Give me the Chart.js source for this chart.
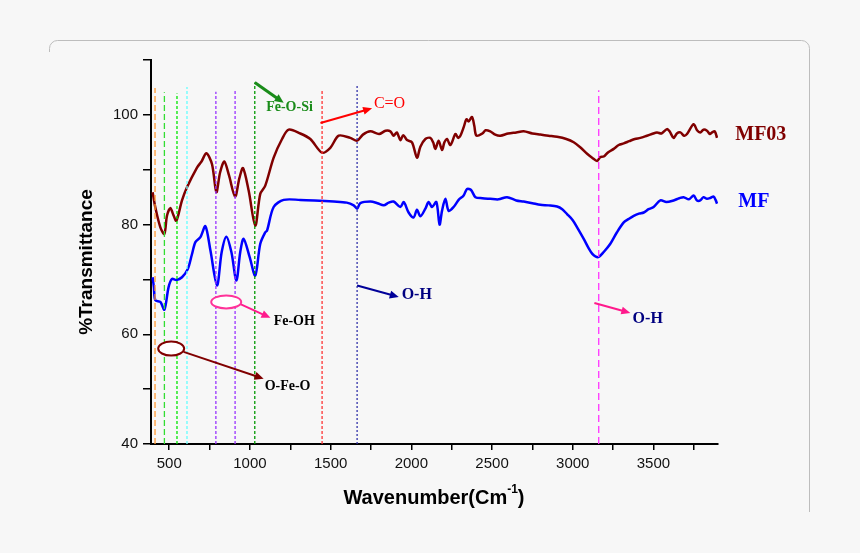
<!DOCTYPE html>
<html>
<head>
<meta charset="utf-8">
<script src="https://cdn.jsdelivr.net/npm/chart.js@4/dist/chart.umd.min.js"></script>
<style>
  html, body { margin: 0; padding: 0; background: #f7f7f7; }
  #wrap { width: 860px; height: 553px; position: relative; }
</style>
</head>
<body>
<div id="wrap"><canvas id="ftir"></canvas></div>
<script>
// wavenumber (cm-1) and %T
const wnMF03 = [397,414,445,470,486,507,525,544,579,610,672,700,730,765,792,815,841,870,908,935,957,992,1033,1064,1095,1147,1199,1240,1312,1374,1447,1498,1550,1622,1664,1700,1746,1800,1840,1870,1890,1910,1932,1950,1973,2004,2035,2056,2087,2118,2135,2149,2169,2190,2205,2221,2240,2252,2273,2290,2304,2325,2341,2355,2376,2390,2403,2440,2460,2489,2520,2551,2600,2650,2696,2750,2799,2850,2903,2960,3006,3050,3089,3120,3151,3170,3192,3220,3254,3285,3316,3350,3385,3419,3460,3490,3522,3550,3584,3600,3625,3645,3667,3690,3708,3749,3770,3790,3810,3832,3850,3863,3880,3894];
const tMF03 = [85.9,83.1,79.5,78.3,81.6,83.0,81.8,80.7,84.4,86.8,90.4,91.5,93.0,91.0,85.9,89.5,91.5,89.0,85.1,88.5,90.3,86.2,79.8,85.6,87.1,92.2,95.6,97.3,96.6,95.6,93.1,94.0,96.2,95.8,95.3,96.4,97.0,96.5,97.1,97.0,96.2,96.8,95.4,96.3,95.4,95.0,92.2,94.2,95.6,95.8,95.0,93.8,95.3,93.6,95.0,95.6,94.5,95.0,96.5,95.8,96.2,97.8,99.2,98.8,99.6,98.0,96.2,96.6,97.2,97.0,96.4,96.2,96.6,96.8,97.0,96.6,96.4,96.2,96.0,95.6,95.0,94.0,92.9,92.2,91.6,92.3,92.4,93.2,93.8,94.5,94.8,95.2,95.6,95.8,96.2,96.5,96.8,96.6,97.4,97.0,95.8,96.6,96.8,96.2,96.5,98.3,97.2,96.8,97.3,97.1,96.5,96.8,97.0,95.8];

const wnMF = [397,405,414,445,470,496,517,544,579,615,640,662,693,724,755,796,825,854,885,916,940,961,998,1033,1064,1095,1106,1147,1209,1312,1400,1519,1600,1643,1664,1684,1746,1790,1829,1860,1890,1932,1953,1983,2014,2035,2056,2087,2107,2128,2155,2175,2190,2211,2231,2262,2293,2324,2345,2370,2397,2440,2489,2540,2593,2650,2696,2750,2799,2850,2903,2935,2965,3000,3027,3068,3100,3120,3140,3161,3192,3233,3274,3316,3345,3378,3410,3440,3470,3501,3543,3580,3625,3660,3687,3720,3749,3770,3790,3810,3832,3855,3873,3885,3894];
const tMF = [70.4,68.5,66.2,65.9,64.5,68.6,70.1,69.9,70.4,71.9,74.5,76.8,77.7,79.7,75.3,68.9,75.0,77.8,75.0,69.8,75.0,77.4,74.1,70.7,76.5,78.6,78.9,83.2,84.5,84.5,84.4,84.2,84.0,83.5,82.9,83.9,84.2,83.9,83.5,84.0,84.2,83.2,84.1,82.2,81.3,82.7,81.5,82.9,84.1,83.2,84.1,80.0,82.5,84.7,82.5,83.2,84.5,85.3,86.5,86.3,85.0,84.8,84.7,84.6,85.0,84.4,84.2,83.9,83.6,83.5,83.3,82.8,81.9,80.8,79.5,77.4,75.6,74.7,74.2,74.1,75.0,76.5,78.6,80.4,81.0,81.6,82.0,82.2,82.8,83.2,84.4,84.1,84.4,84.8,85.0,84.6,85.3,84.4,84.4,85.0,84.7,84.9,85.1,84.5,83.8];

// dashed marker lines: wavenumber, top of line (%T), colour
const markWn = [412,470,548,610,789,908,1030,1447,1664,3161];
const markTop = [104.9,104.1,103.9,105.1,104.2,104.5,105.9,104.4,105.4,104.5];
const markColor = ['#ff9933','#33dd33','#00e600','#66ffff','#9933ff','#9933ff','#009900','#ff3333','#3333aa','#ff33ff'];
const markDash = [[6,3],[6,3],[3,2],[3,2],[3,2],[3,2],[3,2],[3,2],[2,2],[7,4]];

const xTicks = [500,750,1000,1250,1500,1750,2000,2250,2500,2750,3000,3250,3500,3750];
const yTicks = [40,50,60,70,80,90,100,110];

// annotations in data units
const arrows = [
  { from: [1030,105.9], to: [1209,102.2], color: '#1a8c1a', w: 3 },
  { from: [1437,98.5], to: [1757,101.2], color: '#ff0000', w: 2 },
  { from: [1664,68.9], to: [1922,66.8], color: '#000099', w: 2 },
  { from: [3134,65.7], to: [3357,63.9], color: '#ff1a8c', w: 2 },
  { from: [941,65.5], to: [1127,63.0], color: '#ff1a8c', w: 2 },
  { from: [589,56.8], to: [1085,51.9], color: '#800000', w: 2 }
];
const ellipses = [
  { c: [853,65.9], rx: 15, ry: 6.5, color: '#ff3399' },
  { c: [512,57.4], rx: 13, ry: 7, color: '#800000' }
];
const notes = [
  { text: 'Fe-O-Si', at: [1245,101.3], color: '#1a8c1a', font: 'bold 14px "Liberation Serif"', align: 'center' },
  { text: 'C=O', at: [1768,102.1], color: '#ff0000', font: '16px "Liberation Serif"', align: 'left' },
  { text: 'O-H', at: [1940,67.1], color: '#000080', font: 'bold 16px "Liberation Serif"', align: 'left' },
  { text: 'O-H', at: [3371,62.9], color: '#000080', font: 'bold 16px "Liberation Serif"', align: 'left' },
  { text: 'Fe-OH', at: [1147,62.4], color: '#000000', font: 'bold 14px "Liberation Serif"', align: 'left' },
  { text: 'O-Fe-O', at: [1091,50.5], color: '#000000', font: 'bold 14px "Liberation Serif"', align: 'left' },
  { text: 'MF03', at: [4007,96.4], color: '#800000', font: 'bold 20px "Liberation Serif"', align: 'left' },
  { text: 'MF', at: [4026,84.2], color: '#0000ff', font: 'bold 20px "Liberation Serif"', align: 'left' }
];

function pts(xs, ys) {
  return xs.map((x, i) => ({ x: x, y: ys[i] }));
}

var datasets = [];
for (var i = 0; i < markWn.length; i++) {
  datasets.push({
    data: [{ x: markWn[i], y: 40 }, { x: markWn[i], y: markTop[i] }],
    borderColor: markColor[i],
    borderWidth: 1.3,
    borderDash: markDash[i],
    pointRadius: 0,
    tension: 0
  });
}
datasets.push({ label: 'MF03', data: pts(wnMF03, tMF03), borderColor: '#800000', borderWidth: 2.5, pointRadius: 0, tension: 0.3 });
datasets.push({ label: 'MF', data: pts(wnMF, tMF), borderColor: '#0000ff', borderWidth: 2.5, pointRadius: 0, tension: 0.3 });

function arrow(ctx, x1, y1, x2, y2, color, w) {
  var a = Math.atan2(y2 - y1, x2 - x1);
  var hl = 9, hw = 4;
  ctx.strokeStyle = color;
  ctx.fillStyle = color;
  ctx.lineWidth = w;
  ctx.beginPath();
  ctx.moveTo(x1, y1);
  ctx.lineTo(x2 - Math.cos(a) * hl * 0.6, y2 - Math.sin(a) * hl * 0.6);
  ctx.stroke();
  ctx.beginPath();
  ctx.moveTo(x2, y2);
  ctx.lineTo(x2 - Math.cos(a) * hl - Math.sin(a) * hw, y2 - Math.sin(a) * hl + Math.cos(a) * hw);
  ctx.lineTo(x2 - Math.cos(a) * hl + Math.sin(a) * hw, y2 - Math.sin(a) * hl - Math.cos(a) * hw);
  ctx.closePath();
  ctx.fill();
}

const extras = {
  id: 'extras',
  beforeDraw(chart) {
    const ctx = chart.ctx;
    ctx.save();
    ctx.strokeStyle = '#bdbdbd';
    ctx.lineWidth = 1;
    ctx.beginPath();
    ctx.moveTo(49.5, 52);
    ctx.arcTo(49.5, 40.5, 60, 40.5, 8);
    ctx.lineTo(800, 40.5);
    ctx.arcTo(809.5, 40.5, 809.5, 52, 8);
    ctx.lineTo(809.5, 512);
    ctx.stroke();
    ctx.restore();
  },
  afterDatasetsDraw(chart) {
    const ctx = chart.ctx;
    const xs = chart.scales.x, ys = chart.scales.y;
    const X = v => xs.getPixelForValue(v);
    const Y = v => ys.getPixelForValue(v);
    ctx.save();
    arrows.forEach(a => arrow(ctx, X(a.from[0]), Y(a.from[1]), X(a.to[0]), Y(a.to[1]), a.color, a.w));
    ellipses.forEach(e => {
      ctx.beginPath();
      ctx.ellipse(X(e.c[0]), Y(e.c[1]), e.rx, e.ry, 0, 0, Math.PI * 2);
      ctx.fillStyle = '#ffffff';
      ctx.fill();
      ctx.strokeStyle = e.color;
      ctx.lineWidth = 2;
      ctx.stroke();
    });
    ctx.textBaseline = 'middle';
    notes.forEach(n => {
      ctx.font = n.font;
      ctx.fillStyle = n.color;
      ctx.textAlign = n.align;
      ctx.fillText(n.text, X(n.at[0]), Y(n.at[1]));
    });

    // axis titles
    ctx.fillStyle = '#000';
    ctx.font = 'bold 19px "Liberation Sans"';
    ctx.save();
    ctx.translate(87, (ys.top + ys.bottom) / 2 + 10);
    ctx.rotate(-Math.PI / 2);
    ctx.textAlign = 'center';
    ctx.fillText('%Transmittance', 0, 0);
    ctx.restore();

    var main = 'Wavenumber(Cm', sup = '-1';
    ctx.font = 'bold 20px "Liberation Sans"';
    var w1 = ctx.measureText(main).width;
    var w3 = ctx.measureText(')').width;
    ctx.font = 'bold 12px "Liberation Sans"';
    var w2 = ctx.measureText(sup).width;
    var x0 = 434 - (w1 + w2 + w3) / 2;
    ctx.textAlign = 'left';
    ctx.font = 'bold 20px "Liberation Sans"';
    ctx.fillText(main, x0, 498);
    ctx.font = 'bold 12px "Liberation Sans"';
    ctx.fillText(sup, x0 + w1, 490);
    ctx.font = 'bold 20px "Liberation Sans"';
    ctx.fillText(')', x0 + w1 + w2, 498);
    ctx.restore();
  }
};

new Chart('ftir', {
  type: 'line',
  data: { datasets: datasets },
  plugins: [extras],
  options: {
    responsive: true,
    maintainAspectRatio: false,
    animation: false,
    layout: { padding: { left: 101, right: 142, top: 60, bottom: 69 } },
    plugins: { legend: { display: false }, tooltip: { enabled: false } },
    scales: {
      x: {
        type: 'linear',
        min: 387,
        max: 3900,
        afterFit: s => { s.height = 40; },
        afterBuildTicks: s => { s.ticks = xTicks.map(v => ({ value: v })); },
        grid: { drawOnChartArea: false, tickLength: 6, color: '#000', lineWidth: 1.5 },
        border: { color: '#000', width: 2 },
        ticks: {
          maxRotation: 0,
          autoSkip: false,
          padding: 5,
          color: '#111',
          font: { family: '"Liberation Sans"', size: 15 },
          callback: v => (v % 500 === 0 ? String(v) : '')
        }
      },
      y: {
        min: 40,
        max: 110,
        afterFit: s => { s.width = 50; },
        afterBuildTicks: s => { s.ticks = yTicks.map(v => ({ value: v })); },
        grid: { drawOnChartArea: false, tickLength: 8, color: '#000', lineWidth: 1.5 },
        border: { color: '#000', width: 2 },
        ticks: {
          autoSkip: false,
          padding: 5,
          color: '#111',
          font: { family: '"Liberation Sans"', size: 15 },
          callback: v => (v % 20 === 0 ? String(v) : '')
        }
      }
    }
  }
});
</script>
</body>
</html>
